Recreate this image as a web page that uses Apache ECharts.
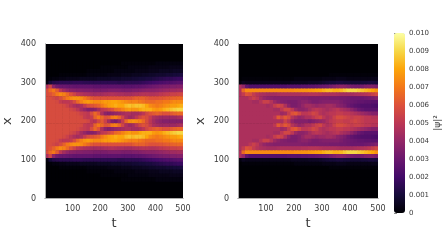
<!DOCTYPE html>
<html><head><meta charset="utf-8">
<style>html,body{margin:0;padding:0;background:#fff}#c{width:448px;height:252px;filter:blur(0.55px)}</style>
<script src="https://cdn.jsdelivr.net/npm/echarts@6/dist/echarts.min.js"></script></head>
<body><div id="c"></div>
<script>
var tCenters=[6.25,18.75,31.25,43.75,56.25,68.75,81.25,93.75,106.25,118.75,131.25,143.75,156.25,168.75,181.25,193.75,206.25,218.75,231.25,243.75,256.25,268.75,281.25,293.75,306.25,318.75,331.25,343.75,356.25,368.75,381.25,393.75,406.25,418.75,431.25,443.75,456.25,468.75,481.25,493.75];
var xCenters=[350,340,330,320,310,300,290,280,270,260,250,240,230,220,210,200,190,180,170,160,150,140,130,120,110,100,90,80,70,60,50];
var leftHeat=[
[0,0,0,0,0,0,0,0,0,0,0,0,0,0,0,0,0,0,0,0,0,0,1,1,1,1,1,1,1,1,1,1,2,2,2,2,2,2,2,2],
[0,0,0,0,0,0,0,0,0,0,0,0,0,0,0,0,1,1,1,1,1,1,1,1,2,2,2,2,2,2,3,3,3,3,3,3,4,4,4,4],
[0,0,0,0,0,0,0,0,0,0,0,0,1,1,1,1,1,1,1,1,2,2,2,2,2,2,3,3,3,3,4,4,4,5,5,5,5,6,6,6],
[0,0,0,0,1,1,1,1,1,1,1,1,2,2,2,2,2,2,3,3,3,3,4,4,4,5,5,5,6,6,7,7,8,8,8,9,9,10,10,11],
[0,1,2,2,3,3,4,4,4,4,5,5,5,5,5,6,6,6,6,7,7,7,8,8,8,9,9,10,10,11,11,12,13,14,15,16,16,17,18,18],
[2,10,13,14,15,15,15,15,16,16,16,15,15,15,15,15,15,15,15,15,15,14,14,15,15,15,15,16,17,18,19,20,21,22,23,24,24,25,26,26],
[45,55,38,32,30,30,29,29,28,28,28,28,28,28,27,27,27,27,27,27,27,27,26,26,26,26,27,27,28,29,30,31,32,33,34,34,35,35,36,36],
[58,66,70,62,50,44,40,38,37,36,36,35,35,35,34,34,34,34,35,35,35,35,34,34,34,35,35,36,37,38,38,38,39,40,41,42,43,43,44,44],
[58,60,64,70,74,72,66,60,55,50,48,46,45,44,43,44,44,45,46,47,46,45,45,44,44,45,46,47,48,48,47,47,48,50,51,52,54,54,55,56],
[58,58,56,54,58,64,70,74,76,76,74,70,66,62,60,60,60,60,60,60,60,60,60,60,60,62,64,64,64,62,60,60,60,61,62,63,64,65,66,66],
[58,58,58,57,52,50,50,52,58,66,72,76,78,76,74,74,76,78,78,80,80,78,76,74,72,72,72,70,68,66,66,66,68,68,70,70,72,74,74,74],
[58,58,58,58,58,57,54,50,46,44,46,52,58,60,62,64,70,74,78,80,82,80,80,84,86,84,86,86,84,80,74,72,70,72,74,76,78,78,80,82],
[58,58,58,58,58,58,58,56,54,50,44,40,36,36,38,44,50,52,56,60,66,68,72,76,78,76,76,80,82,82,82,78,76,78,82,84,86,88,90,90],
[58,58,58,58,58,58,58,58,58,57,54,52,50,58,66,60,46,38,36,38,40,42,44,46,46,44,44,46,50,56,60,62,64,62,60,60,62,64,66,66],
[58,58,58,58,58,58,58,58,58,58,57,52,50,52,64,70,66,60,62,70,72,66,56,46,42,44,50,56,60,58,52,46,44,42,42,42,42,42,44,46],
[58,58,58,58,58,58,58,58,58,58,58,58,56,50,48,56,62,54,44,36,34,40,52,66,74,76,74,72,66,58,50,44,40,38,36,36,36,36,36,36],
[58,58,58,58,58,58,58,58,58,58,57,52,50,52,64,70,66,60,62,70,72,66,56,46,42,44,50,56,60,58,52,46,44,42,42,42,42,42,44,46],
[58,58,58,58,58,58,58,58,58,57,54,52,50,58,66,60,46,38,36,38,40,42,44,46,46,44,44,46,50,56,60,62,64,62,60,60,62,64,66,66],
[58,58,58,58,58,58,58,56,54,50,44,40,36,36,38,44,50,52,56,60,66,68,72,76,78,76,76,80,82,82,82,78,76,78,82,84,86,88,90,90],
[58,58,58,58,58,57,54,50,46,44,46,52,58,60,62,64,70,74,78,80,82,80,80,84,86,84,86,86,84,80,74,72,70,72,74,76,78,78,80,82],
[58,58,58,57,52,50,50,52,58,66,72,76,78,76,74,74,76,78,78,80,80,78,76,74,72,72,72,70,68,66,66,66,68,68,70,70,72,74,74,74],
[58,58,56,54,58,64,70,74,76,76,74,70,66,62,60,60,60,60,60,60,60,60,60,60,60,62,64,64,64,62,60,60,60,61,62,63,64,65,66,66],
[58,60,64,70,74,72,66,60,55,50,48,46,45,44,43,44,44,45,46,47,46,45,45,44,44,45,46,47,48,48,47,47,48,50,51,52,54,54,55,56],
[58,66,70,62,50,44,40,38,37,36,36,35,35,35,34,34,34,34,35,35,35,35,34,34,34,35,35,36,37,38,38,38,39,40,41,42,43,43,44,44],
[45,55,38,32,30,30,29,29,28,28,28,28,28,28,27,27,27,27,27,27,27,27,26,26,26,26,27,27,28,29,30,31,32,33,34,34,35,35,36,36],
[2,10,13,14,15,15,15,15,16,16,16,15,15,15,15,15,15,15,15,15,15,14,14,15,15,15,15,16,17,18,19,20,21,22,23,24,24,25,26,26],
[0,1,2,2,3,3,4,4,4,4,5,5,5,5,5,6,6,6,6,7,7,7,8,8,8,9,9,10,10,11,11,12,13,14,15,16,16,17,18,18],
[0,0,0,0,1,1,1,1,1,1,1,1,2,2,2,2,2,2,3,3,3,3,4,4,4,5,5,5,6,6,7,7,8,8,8,9,9,10,10,11],
[0,0,0,0,0,0,0,0,0,0,0,0,1,1,1,1,1,1,1,1,2,2,2,2,2,2,3,3,3,3,4,4,4,5,5,5,5,6,6,6],
[0,0,0,0,0,0,0,0,0,0,0,0,0,0,0,0,1,1,1,1,1,1,1,1,2,2,2,2,2,2,3,3,3,3,3,3,4,4,4,4],
[0,0,0,0,0,0,0,0,0,0,0,0,0,0,0,0,0,0,0,0,0,0,1,1,1,1,1,1,1,1,1,1,2,2,2,2,2,2,2,2]
];
var rightHeat=[
[0,0,0,0,0,0,0,0,0,0,0,0,0,0,0,0,0,0,0,0,0,0,0,0,0,0,0,0,0,0,0,0,0,0,0,0,0,0,0,0],
[0,0,0,0,0,0,0,0,0,0,0,0,0,0,0,0,0,0,0,0,0,0,0,0,0,0,0,0,0,0,0,0,0,0,0,0,0,0,0,0],
[0,0,0,0,0,0,0,0,0,0,0,0,0,0,0,0,0,0,0,0,0,0,0,0,0,0,0,0,0,0,0,0,0,0,0,0,0,0,0,0],
[0,0,0,0,0,0,0,0,0,0,0,0,0,0,0,0,0,0,0,0,0,0,0,0,0,0,1,1,1,1,1,1,1,1,1,1,1,1,1,1],
[0,1,1,1,1,1,1,1,1,1,1,1,1,1,1,1,2,2,2,2,2,2,2,2,3,3,3,3,4,4,4,3,3,3,3,3,3,3,4,4],
[2,5,4,4,4,4,4,4,4,4,4,4,4,4,4,5,5,5,5,5,6,6,6,7,8,9,10,10,11,11,10,10,9,9,9,10,10,11,11,10],
[46,40,28,24,24,24,24,24,24,24,24,24,24,24,25,25,25,25,26,26,27,27,28,29,30,31,33,35,37,38,37,35,33,32,32,33,35,36,36,34],
[46,66,74,74,74,74,74,74,74,74,74,74,74,74,74,74,75,75,76,76,77,78,79,80,82,84,84,82,82,84,87,90,90,90,88,86,84,82,80,76],
[46,52,60,58,52,48,46,45,44,44,44,45,46,46,46,46,46,46,47,47,48,48,48,47,46,46,46,46,45,44,44,44,44,45,46,47,48,50,53,56],
[46,46,46,50,54,50,44,40,38,37,36,36,36,36,36,36,36,36,35,35,34,34,34,34,34,34,33,33,33,32,32,31,30,30,30,30,31,32,33,35],
[46,46,46,46,44,44,48,54,54,48,42,38,36,35,34,34,34,36,38,38,36,34,34,35,36,36,36,36,36,34,32,31,30,29,28,28,27,27,26,26],
[46,46,46,46,46,46,46,46,44,46,52,56,54,46,38,34,34,36,40,44,44,42,40,42,42,44,44,42,38,36,34,30,28,26,25,24,24,24,23,22],
[46,46,46,46,46,46,46,46,46,46,44,44,50,56,56,50,42,38,38,40,44,48,50,48,46,44,46,48,50,46,44,42,38,34,30,28,26,26,26,26],
[46,46,46,46,46,46,46,46,46,46,46,46,42,44,52,60,62,56,50,50,52,56,54,48,46,48,50,50,52,52,50,50,48,46,44,42,40,38,36,36],
[46,46,46,46,46,46,46,46,46,46,50,62,56,62,58,48,44,40,42,46,46,50,54,56,50,46,48,54,58,58,56,54,52,54,54,52,50,50,48,48],
[46,46,46,46,46,46,46,46,46,46,46,46,46,54,48,40,36,36,36,36,34,36,38,40,42,46,50,52,54,54,52,52,54,56,54,52,50,50,50,50],
[46,46,46,46,46,46,46,46,46,46,50,62,56,62,58,48,44,40,42,46,46,50,54,56,50,46,48,54,58,58,56,54,52,54,54,52,50,50,48,48],
[46,46,46,46,46,46,46,46,46,46,46,46,42,44,52,60,62,56,50,50,52,56,54,48,46,48,50,50,52,52,50,50,48,46,44,42,40,38,36,36],
[46,46,46,46,46,46,46,46,46,46,44,44,50,56,56,50,42,38,38,40,44,48,50,48,46,44,46,48,50,46,44,42,38,34,30,28,26,26,26,26],
[46,46,46,46,46,46,46,46,44,46,52,56,54,46,38,34,34,36,40,44,44,42,40,42,42,44,44,42,38,36,34,30,28,26,25,24,24,24,23,22],
[46,46,46,46,44,44,48,54,54,48,42,38,36,35,34,34,34,36,38,38,36,34,34,35,36,36,36,36,36,34,32,31,30,29,28,28,27,27,26,26],
[46,46,46,50,54,50,44,40,38,37,36,36,36,36,36,36,36,36,35,35,34,34,34,34,34,34,33,33,33,32,32,31,30,30,30,30,31,32,33,35],
[46,52,60,58,52,48,46,45,44,44,44,45,46,46,46,46,46,46,47,47,48,48,48,47,46,46,46,46,45,44,44,44,44,45,46,47,48,50,53,56],
[46,66,74,74,74,74,74,74,74,74,74,74,74,74,74,74,75,75,76,76,77,78,79,80,82,84,84,82,82,84,87,90,90,90,88,86,84,82,80,76],
[46,40,28,24,24,24,24,24,24,24,24,24,24,24,25,25,25,25,26,26,27,27,28,29,30,31,33,35,37,38,37,35,33,32,32,33,35,36,36,34],
[2,5,4,4,4,4,4,4,4,4,4,4,4,4,4,5,5,5,5,5,6,6,6,7,8,9,10,10,11,11,10,10,9,9,9,10,10,11,11,10],
[0,1,1,1,1,1,1,1,1,1,1,1,1,1,1,1,2,2,2,2,2,2,2,2,3,3,3,3,4,4,4,3,3,3,3,3,3,3,4,4],
[0,0,0,0,0,0,0,0,0,0,0,0,0,0,0,0,0,0,0,0,0,0,0,0,0,0,1,1,1,1,1,1,1,1,1,1,1,1,1,1],
[0,0,0,0,0,0,0,0,0,0,0,0,0,0,0,0,0,0,0,0,0,0,0,0,0,0,0,0,0,0,0,0,0,0,0,0,0,0,0,0],
[0,0,0,0,0,0,0,0,0,0,0,0,0,0,0,0,0,0,0,0,0,0,0,0,0,0,0,0,0,0,0,0,0,0,0,0,0,0,0,0],
[0,0,0,0,0,0,0,0,0,0,0,0,0,0,0,0,0,0,0,0,0,0,0,0,0,0,0,0,0,0,0,0,0,0,0,0,0,0,0,0]
];
var inferno=['#000004','#160b39','#420a68','#6a176e','#932667','#bc3754','#dd513a','#f37819','#fca50a','#f6d746','#fcffa4'];
var font='"DejaVu Sans"', textCol='#3a3a3a';
function triples(tbl){var o=[];tbl.forEach(function(r,i){r.forEach(function(v,j){o.push([tCenters[j],xCenters[i],v/10000]);});});return o;}
function render(params,api){
  var t=api.value(0),x=api.value(1);
  var a=api.coord([t-6.25,x+5]),b=api.coord([t+6.25,x-5]);
  return {type:'rect',shape:{x:a[0],y:a[1],width:b[0]-a[0]+0.6,height:b[1]-a[1]+0.6},style:{fill:api.visual('color')}};
}
var grids=[{left:44,top:44,width:139,height:154.5,show:true,backgroundColor:'#000004',borderWidth:0},
           {left:238,top:44,width:140,height:154.5,show:true,backgroundColor:'#000004',borderWidth:0},
           {left:394,top:33,width:11,height:180}];
var line={show:true,lineStyle:{color:'#aaa',width:1}};
var xAxes=[],yAxes=[];
[0,1].forEach(function(g){
  xAxes.push({type:'value',gridIndex:g,min:0,max:500,interval:100,position:'bottom',name:'t',nameLocation:'middle',nameGap:17,z:5,
    nameTextStyle:{fontFamily:font,fontSize:13,color:textCol},splitLine:{show:false},axisTick:{show:false},axisLine:line,
    axisLabel:{fontFamily:font,fontSize:8,color:textCol,margin:6,formatter:function(v){return v===0?'':String(v);}}});
  xAxes.push({type:'value',gridIndex:g,min:0,max:500,interval:100,position:'top',z:5,splitLine:{show:false},axisTick:{show:false},axisLabel:{show:false},axisLine:line});
  yAxes.push({type:'value',gridIndex:g,min:0,max:400,interval:100,position:'left',name:'x',nameLocation:'middle',nameGap:31,nameRotate:90,z:5,
    nameTextStyle:{fontFamily:font,fontSize:13,color:textCol},splitLine:{show:false},axisTick:{show:false},axisLine:line,
    axisLabel:{fontFamily:font,fontSize:8,color:textCol,margin:9}});
  yAxes.push({type:'value',gridIndex:g,min:0,max:400,interval:100,position:'right',z:5,splitLine:{show:false},axisTick:{show:false},axisLabel:{show:false},axisLine:line});
});
xAxes.push({type:'value',gridIndex:2,min:0,max:1,show:false});
yAxes.push({type:'value',gridIndex:2,min:0,max:0.01,interval:0.001,position:'right',name:'|ψ|²',nameLocation:'middle',nameGap:26,nameRotate:90,
  nameTextStyle:{fontFamily:font,fontSize:9,color:textCol},splitLine:{show:false},axisLine:{show:false},
  axisTick:{show:true,length:3,inside:false,lineStyle:{color:'#555',width:0.7}},
  axisLabel:{fontFamily:font,fontSize:7,color:textCol,margin:4,formatter:function(v){return v===0?'0':v.toFixed(3);}}});
var chart=echarts.init(document.getElementById('c'),null,{renderer:'canvas'});
chart.setOption({animation:false,backgroundColor:'#fff',grid:grids,xAxis:xAxes,yAxis:yAxes,
  visualMap:{type:'continuous',min:0,max:0.01,inRange:{color:inferno},show:true,left:394,top:33,itemWidth:11,itemHeight:180,text:null,showLabel:false,calculable:false,hoverLink:false,seriesIndex:[0,1],padding:0,textStyle:{fontSize:0}},
  series:[
   {type:'custom',xAxisIndex:0,yAxisIndex:0,data:triples(leftHeat),renderItem:render,encode:{x:0,y:1},clip:true,z:1},
   {type:'custom',xAxisIndex:2,yAxisIndex:2,data:triples(rightHeat),renderItem:render,encode:{x:0,y:1},clip:true,z:1}
  ]});
</script></body></html>
